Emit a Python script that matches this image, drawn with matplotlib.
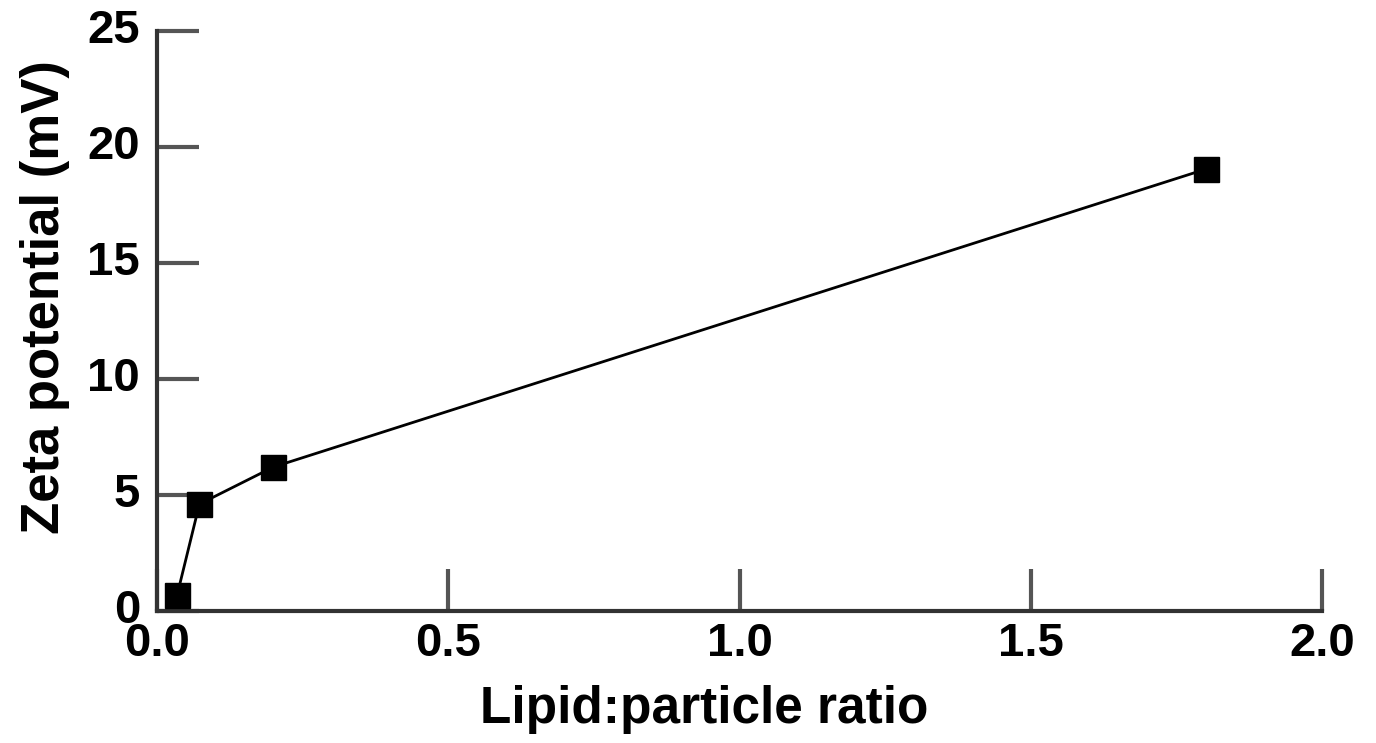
import matplotlib
matplotlib.use("Agg")
import matplotlib.pyplot as plt
from matplotlib.transforms import ScaledTranslation

ratio = [0.035, 0.073, 0.20, 1.80]
zeta = [0.7, 4.6, 6.2, 19.05]
xticks = [0.0, 0.5, 1.0, 1.5, 2.0]
xticklabels = ["0.0", "0.5", "1.0", "1.5", "2.0"]
yticks = [0, 5, 10, 15, 20, 25]

plt.rcParams['font.family'] = ['Liberation Sans', 'DejaVu Sans']
fig = plt.figure(figsize=(13.76, 7.43), dpi=100)
ax = fig.add_axes([0.114, 0.178, 0.847, 0.780])
ax.plot(ratio, zeta, color='black', lw=2, marker='s', markersize=18,
        markerfacecolor='black', markeredgecolor='black', clip_on=False, zorder=3)
ax.set_xlim(0, 2.0)
ax.set_ylim(0, 25)
ax.set_xticks(xticks)
ax.set_xticklabels(xticklabels)
ax.set_yticks(yticks)
for s in ['top', 'right']:
    ax.spines[s].set_visible(False)
for s in ['left', 'bottom']:
    ax.spines[s].set_linewidth(3)
    ax.spines[s].set_color('#333333')
ax.tick_params(direction='in', length=30, width=3, color='#555555',
               labelsize=34, pad=8)
ax.tick_params(axis='y', pad=12)
for lab in ax.get_xticklabels() + ax.get_yticklabels():
    lab.set_fontweight('bold')
shift = ScaledTranslation(0, 5 / 100, fig.dpi_scale_trans)
for lab in ax.get_yticklabels():
    lab.set_transform(lab.get_transform() + shift)
ax.set_xlabel('Lipid:particle ratio', fontsize=37, fontweight='bold')
ax.set_ylabel('Zeta potential (mV)', fontsize=38, fontweight='bold')
ax.xaxis.set_label_coords(0.47, -0.128)
ax.yaxis.set_label_coords(-0.0746, 0.541)
fig.savefig('out.png', dpi=100)
